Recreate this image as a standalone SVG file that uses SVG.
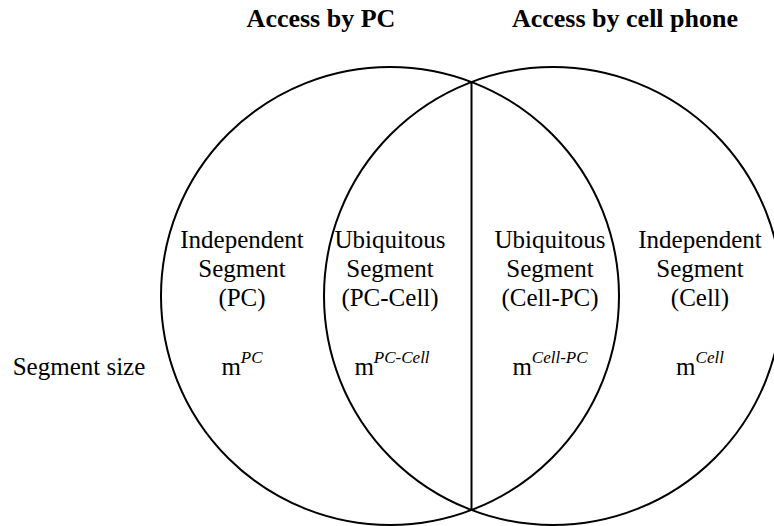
<svg xmlns="http://www.w3.org/2000/svg" width="774" height="526" viewBox="0 0 774 526">
<style>
.c{fill:none;stroke:#000;stroke-width:2}
.t{font-family:"Liberation Serif","Times New Roman",serif;font-size:25px;fill:#000;text-anchor:middle}
.h{font-family:"Liberation Serif","Times New Roman",serif;font-size:26px;font-weight:bold;fill:#000;text-anchor:middle}
.s{font-style:italic;font-size:17px}
</style>
<rect width="774" height="526" fill="#fff"/>
<g id="pc-set"><circle class="c" cx="390" cy="296" r="229"/></g>
<g id="cell-set"><circle class="c" cx="553" cy="296" r="229"/></g>
<g id="connectors"><line class="c" x1="471.5" y1="82" x2="471.5" y2="510"/></g>
<g id="title-pc"><text class="h" x="321" y="27">Access by PC</text></g>
<g id="title-cell"><text class="h" x="625" y="27">Access by cell phone</text></g>
<g id="label-size"><text class="t" x="79" y="375">Segment size</text></g>
<g id="seg-pc">
<text class="t" x="242" y="248">Independent</text>
<text class="t" x="242" y="277">Segment</text>
<text class="t" x="242" y="306">(PC)</text>
<text class="t" x="242" y="375">m<tspan class="s" dy="-12">PC</tspan></text>
</g>
<g id="seg-pc-cell">
<text class="t" x="390" y="248">Ubiquitous</text>
<text class="t" x="390" y="277">Segment</text>
<text class="t" x="390" y="306">(PC-Cell)</text>
<text class="t" x="392" y="375">m<tspan class="s" dy="-12">PC-Cell</tspan></text>
</g>
<g id="seg-cell-pc">
<text class="t" x="550" y="248">Ubiquitous</text>
<text class="t" x="550" y="277">Segment</text>
<text class="t" x="550" y="306">(Cell-PC)</text>
<text class="t" x="550" y="375">m<tspan class="s" dy="-12">Cell-PC</tspan></text>
</g>
<g id="seg-cell">
<text class="t" x="700" y="248">Independent</text>
<text class="t" x="700" y="277">Segment</text>
<text class="t" x="700" y="306">(Cell)</text>
<text class="t" x="700" y="375">m<tspan class="s" dy="-12">Cell</tspan></text>
</g>
</svg>
